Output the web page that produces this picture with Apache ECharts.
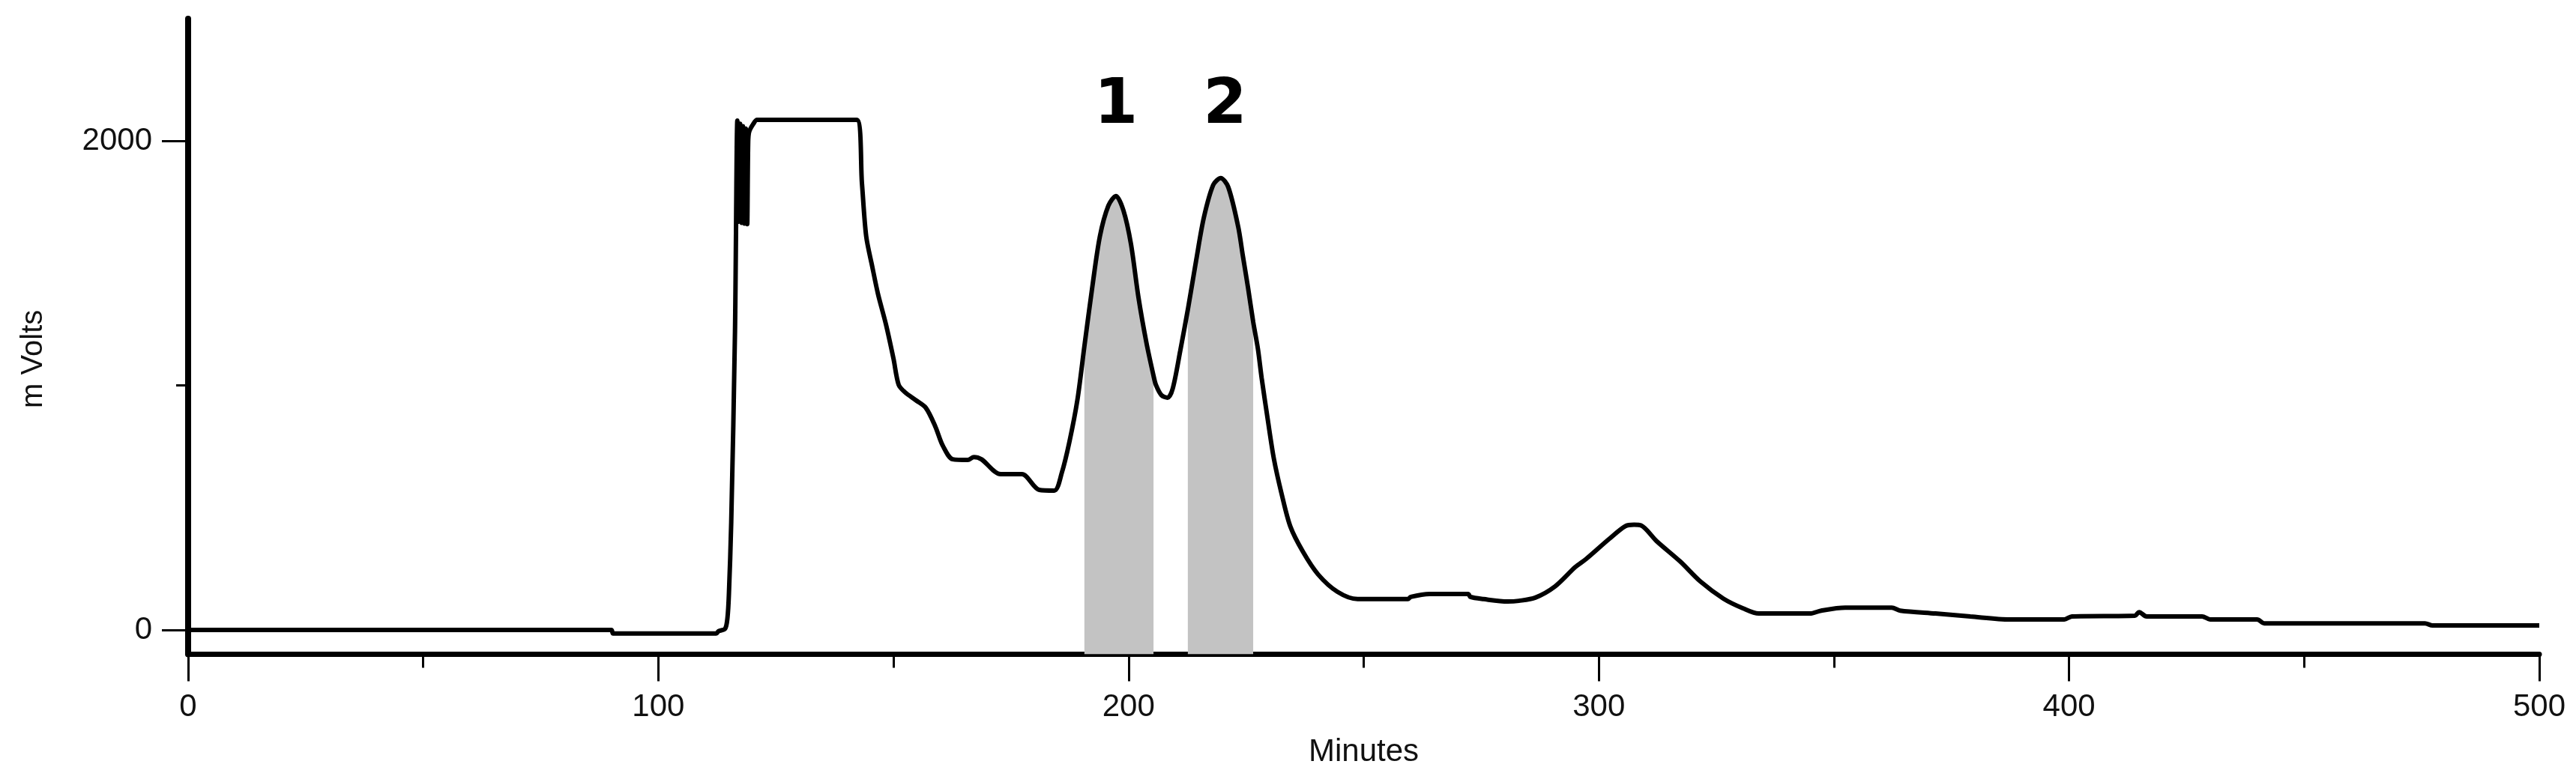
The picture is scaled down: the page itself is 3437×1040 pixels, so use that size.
<!DOCTYPE html>
<html>
<head>
<meta charset="utf-8">
<script src="https://cdn.jsdelivr.net/npm/echarts@6/dist/echarts.min.js"></script>
<style>
html,body{margin:0;padding:0;background:#fff;}
#chart{width:3437px;height:1040px;}
</style>
</head>
<body>
<div id="chart"></div>
<script>
// Chromatogram trace: [minutes, mVolts]
var curve = [
  [0, 0], [90, 0], [90.4, -15], [112.3, -15], [112.8, -5], [114.2, 5], [114.7, 50],
  [115, 144], [115.5, 441], [116.3, 1222], [116.8, 2083],
  [117.1, 1670], [117.4, 2070], [117.7, 1665], [118.0, 2060], [118.3, 1662],
  [118.6, 2050], [118.9, 1660], [119.1, 1990], [119.3, 2037], [120.2, 2070], [121, 2086],
  [142.2, 2086], [143.3, 1826], [144.2, 1610], [145.5, 1485], [146.7, 1375], [148.4, 1250],
  [150, 1110], [151.1, 1003], [152.4, 973], [154.8, 939], [156.9, 908], [158.9, 832],
  [160.5, 753], [162.6, 698], [165.8, 695], [167.1, 707], [168.7, 698], [172.8, 637],
  [177.3, 637], [181, 573], [184.2, 570], [185.8, 643], [187.4, 768], [189.1, 939],
  [190.6, 1160], [192.3, 1405], [193.9, 1610], [195.7, 1735], [197.3, 1775], [198.9, 1716],
  [200.5, 1579], [202.1, 1360], [203.8, 1174], [205.3, 1040], [205.8, 1003], [207, 960],
  [208.3, 950], [209.4, 988], [211, 1143], [212.6, 1310], [214.4, 1515], [216, 1686],
  [218, 1820], [219.6, 1848], [221.2, 1811], [223.3, 1650], [224.3, 1530], [225.4, 1400],
  [226.5, 1260], [227.5, 1150], [228.3, 1030], [229.6, 860], [230.9, 700], [232.5, 560],
  [234.4, 423], [237.1, 319], [240.3, 227], [244.4, 156], [248.7, 126], [259.4, 126],
  [260, 135], [264, 147], [272.2, 147], [272.7, 135], [275.5, 126], [280.6, 116],
  [283, 119], [286.5, 132], [290.7, 178], [295, 257], [297.3, 290], [302.2, 372],
  [305.6, 424], [307.5, 430], [309, 427], [312.3, 363], [317.3, 280], [321.6, 198],
  [326.5, 128], [330.7, 88], [334, 67], [344.9, 67], [347.3, 79], [352.4, 91],
  [362.3, 91], [364.1, 79], [371.6, 67], [379, 55], [387.4, 43], [399, 43], [400.6, 55],
  [414, 58], [414.9, 73], [416.5, 55], [428.3, 55], [430, 43], [440, 43], [441.5, 27],
  [475.7, 27], [477.3, 18], [500, 18]
];
// Shaded (collected) fractions, in minutes
var shadeRanges = [[190.6, 205.3], [212.6, 226.5]];
// Peak labels
var peakLabels = ['1', '2'];
var peakLabelPos = [[197.3, 2140], [220.5, 2140]];
// Axis ticks
var xTickLabels = [0, 100, 200, 300, 400, 500];
var yTickLabels = [0, 2000];
var yMinorTicks = [1000];

var FONT = '"Liberation Sans", Arial, sans-serif';

var chart = echarts.init(document.getElementById('chart'), null, {renderer: 'canvas'});

var shadeSeries = shadeRanges.map(function (r) {
  return {
    type: 'line',
    data: curve.filter(function (p) { return p[0] >= r[0] && p[0] <= r[1]; }),
    showSymbol: false,
    silent: true,
    smooth: 0.3,
    lineStyle: {width: 0, opacity: 0},
    areaStyle: {color: '#c3c3c3', opacity: 1, origin: 'start'},
    z: 1
  };
});

var option = {
  animation: false,
  backgroundColor: '#ffffff',
  grid: {left: 251, right: 49, top: 25, bottom: 166.4, containLabel: false},
  xAxis: {
    type: 'value', min: 0, max: 500, interval: 100,
    name: 'Minutes', nameLocation: 'middle', nameGap: 110,
    nameTextStyle: {fontFamily: FONT, fontSize: 42, color: '#111'},
    axisLine: {show: true, onZero: false, lineStyle: {color: '#000', width: 7}},
    axisTick: {show: true, length: 36, lineStyle: {color: '#000', width: 3}},
    minorTick: {show: true, splitNumber: 2, length: 18, lineStyle: {color: '#000', width: 3}},
    axisLabel: {fontFamily: FONT, fontSize: 42, color: '#111', margin: 50,
      customValues: xTickLabels, formatter: function (v) { return String(v); }},
    splitLine: {show: false}, minorSplitLine: {show: false}
  },
  yAxis: [{
    type: 'value', min: -100, max: 2500,
    name: 'm Volts', nameLocation: 'middle', nameGap: 186, nameRotate: 90,
    nameTextStyle: {fontFamily: FONT, fontSize: 40, color: '#111', padding: [0, 60, 0, 0]},
    axisLine: {show: true, onZero: false, lineStyle: {color: '#000', width: 8}},
    axisTick: {show: true, length: 35, customValues: yTickLabels, lineStyle: {color: '#000', width: 3}},
    axisLabel: {fontFamily: FONT, fontSize: 42, color: '#111', margin: 48,
      customValues: yTickLabels, formatter: function (v) { return String(v); }},
    splitLine: {show: false}
  }, {
    type: 'value', min: -100, max: 2500, position: 'left',
    axisLine: {show: false},
    axisTick: {show: true, length: 16, customValues: yMinorTicks, lineStyle: {color: '#000', width: 3}},
    axisLabel: {show: false},
    splitLine: {show: false}
  }],
  series: shadeSeries.concat([{
    type: 'line',
    data: curve,
    showSymbol: false,
    smooth: 0.3,
    lineStyle: {color: '#000', width: 6},
    z: 3
  }, {
    type: 'scatter',
    data: peakLabelPos.map(function (p, i) { return [p[0], p[1], peakLabels[i]]; }),
    symbolSize: 0,
    z: 4,
    itemStyle: {opacity: 1},
    label: {
      show: true, position: 'inside',
      formatter: function (p) { return p.value[2]; },
      fontFamily: '"DejaVu Sans", Verdana, sans-serif', fontWeight: 'bold',
      fontSize: 84, color: '#000', opacity: 1, textBorderWidth: 0
    }
  }])
};
chart.setOption(option);
</script>
</body>
</html>
